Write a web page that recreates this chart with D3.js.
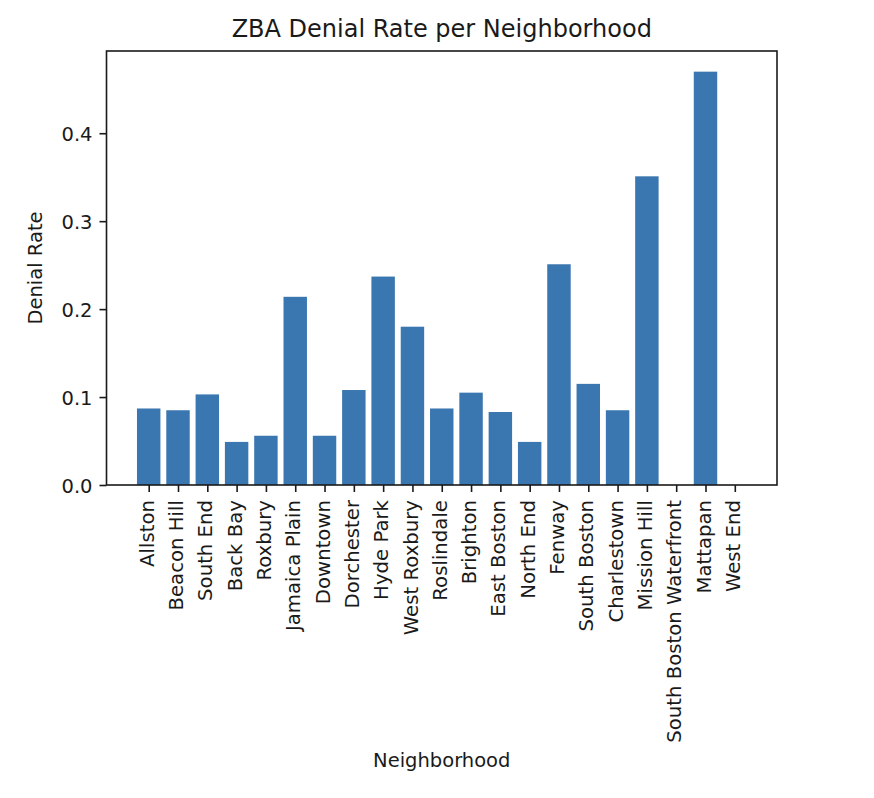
<!DOCTYPE html>
<html>
<head>
<meta charset="utf-8">
<script src="https://cdn.jsdelivr.net/npm/d3@7"></script>
<style>
  html, body { margin: 0; padding: 0; background: #fff; }
  svg { display: block; }
  text { font-family: "DejaVu Sans", sans-serif; fill: #1a1a1a; }
</style>
</head>
<body>
<svg id="chart" width="874" height="798"></svg>
<script>
const neighborhoods = ["Allston", "Beacon Hill", "South End", "Back Bay", "Roxbury", "Jamaica Plain",
  "Downtown", "Dorchester", "Hyde Park", "West Roxbury", "Roslindale", "Brighton", "East Boston",
  "North End", "Fenway", "South Boston", "Charlestown", "Mission Hill", "South Boston Waterfront",
  "Mattapan", "West End"];
const denialRates = [0.087, 0.085, 0.103, 0.049, 0.056, 0.214, 0.056, 0.108, 0.237, 0.180, 0.087,
  0.105, 0.083, 0.049, 0.251, 0.115, 0.085, 0.351, 0.0, 0.470, 0.0];
const yTicks = [0.0, 0.1, 0.2, 0.3, 0.4];
const yTickLabels = ["0.0", "0.1", "0.2", "0.3", "0.4"];
const titleText = "ZBA Denial Rate per Neighborhood";
const xLabel = "Neighborhood";
const yLabel = "Denial Rate";

const svg = d3.select("#chart");
const L = 106.5, R = 777, T = 51, B = 485;
const barW = 0.8;
const n = neighborhoods.length;
const xMin = -barW / 2, xMax = n - 1 + barW / 2;
const xPad = 0.05 * (xMax - xMin);
const x = d3.scaleLinear().domain([xMin - xPad, xMax + xPad]).range([L, R]);
const yMax = d3.max(denialRates) * 1.05;
const y = d3.scaleLinear().domain([0, yMax]).range([B, T]);

svg.append("rect").attr("width", 874).attr("height", 798).attr("fill", "#fff");

// bars
svg.append("g").selectAll("rect").data(denialRates).join("rect")
  .attr("x", (d, i) => x(i - barW / 2))
  .attr("width", (d, i) => x(i + barW / 2) - x(i - barW / 2))
  .attr("y", d => y(d))
  .attr("height", d => y(0) - y(d))
  .attr("fill", "#3a76af");

// axes
const xAxis = d3.axisBottom(x)
  .tickValues(d3.range(n))
  .tickFormat(i => neighborhoods[i])
  .tickSize(7).tickSizeOuter(0);
const gx = svg.append("g").attr("transform", `translate(0,${B})`).call(xAxis);
gx.select(".domain").remove();
gx.selectAll(".tick line").attr("stroke", "#1a1a1a").attr("stroke-width", 1.6);
gx.selectAll(".tick text")
  .attr("font-size", "19.7px")
  .attr("fill", "#1a1a1a")
  .attr("text-anchor", "end")
  .attr("dy", null)
  .attr("y", null)
  .attr("transform", "translate(4.6,15) rotate(-90)");

const yAxis = d3.axisLeft(y)
  .tickValues(yTicks)
  .tickFormat((d, i) => yTickLabels[i])
  .tickSize(7).tickSizeOuter(0).tickPadding(7);
const gy = svg.append("g").attr("transform", `translate(${L},0)`).call(yAxis);
gy.select(".domain").remove();
gy.selectAll(".tick line").attr("stroke", "#1a1a1a").attr("stroke-width", 1.6);
gy.selectAll(".tick text").attr("font-size", "19.5px").attr("fill", "#1a1a1a").attr("dy", "0.38em");

// frame
svg.append("rect").attr("x", L).attr("y", T).attr("width", R - L).attr("height", B - T)
  .attr("fill", "none").attr("stroke", "#1a1a1a").attr("stroke-width", 1.6);

// title and labels
svg.append("text").attr("x", (L + R) / 2).attr("y", 37).attr("text-anchor", "middle")
  .attr("font-size", "24px").text(titleText);
svg.append("text").attr("x", (L + R) / 2).attr("y", 767).attr("text-anchor", "middle")
  .attr("font-size", "19.5px").text(xLabel);
svg.append("text").attr("transform", `translate(42,${(T + B) / 2}) rotate(-90)`)
  .attr("text-anchor", "middle").attr("font-size", "19.5px").text(yLabel);
</script>
</body>
</html>
